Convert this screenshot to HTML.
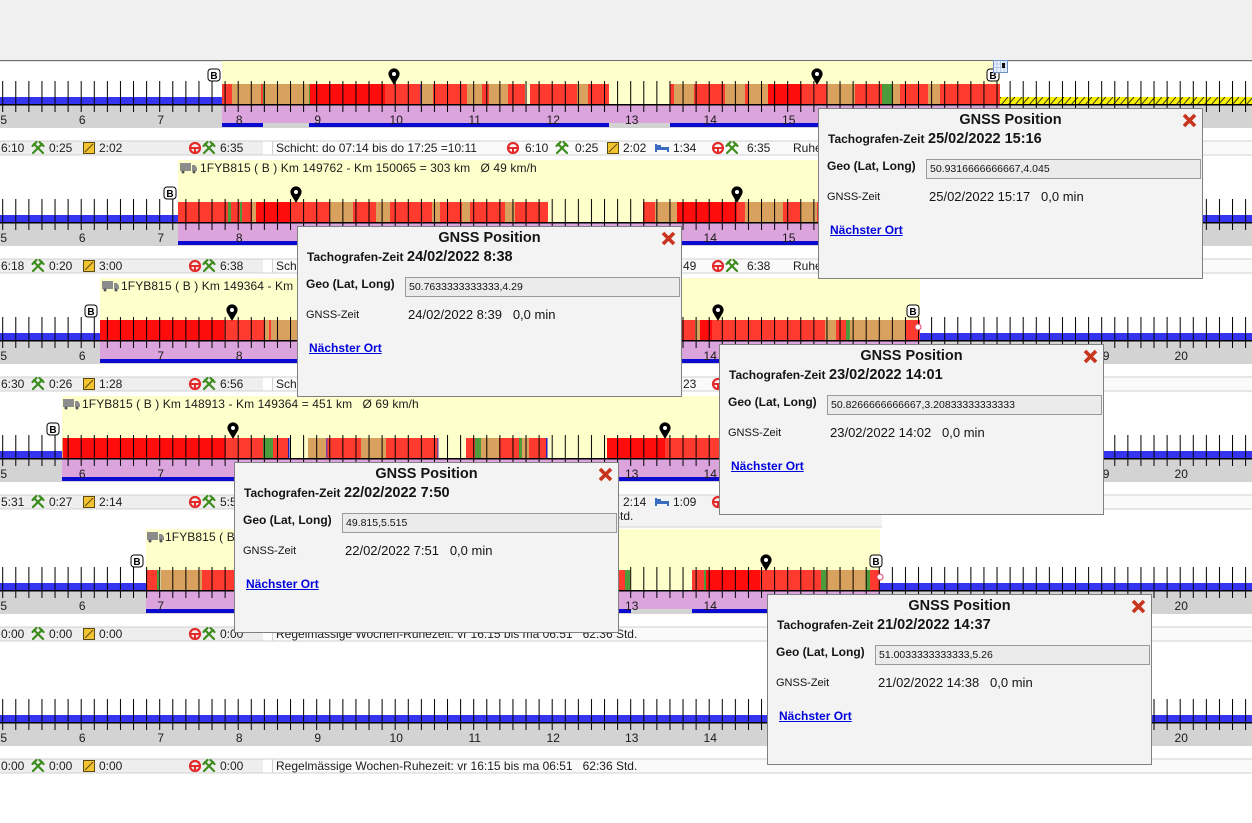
<!DOCTYPE html>
<html><head><meta charset="utf-8">
<style>
html,body{margin:0;padding:0;background:#fff;}
body{width:1252px;height:823px;position:relative;overflow:hidden;}
svg text{white-space:pre;}
.pp{position:absolute;width:383px;height:169px;background:#f3f3f3;border:1px solid #808080;font-family:"Liberation Sans",Arial,sans-serif;color:#141414;}
.pp div{position:absolute;white-space:pre;line-height:14px;}
.pp .tt{left:0;width:383px;text-align:center;top:3px;font-weight:bold;font-size:14.5px;line-height:16px;}
.pp .l1{left:9px;top:23px;font-weight:bold;font-size:12px;}
.pp .v1{left:109px;top:22px;font-weight:bold;font-size:14.5px;line-height:17px;}
.pp .l2{left:8px;top:50px;font-weight:bold;font-size:12px;}
.pp .in{left:107px;top:50px;width:270px;height:18px;border:1px solid #9a9a9a;background:#ebebeb;font-size:10.5px;line-height:18px;padding-left:3px;}
.pp .l3{left:8px;top:81px;font-size:11px;}
.pp .v3{left:110px;top:80px;font-size:13px;line-height:16px;}
.pp .lk{left:11px;top:114px;font-weight:bold;font-size:12px;color:#0000dd;text-decoration:underline;}
.pp svg{position:absolute;left:363px;top:4px;}
</style></head><body>
<svg width="1252" height="823" style="position:absolute;left:0;top:0" font-family="Liberation Sans, Arial, sans-serif">
<defs>
<pattern id="tk" patternUnits="userSpaceOnUse" x="2.2" y="0" width="13.0833" height="40"><rect width="1" height="40" fill="#000"/></pattern>
<pattern id="hat" patternUnits="userSpaceOnUse" width="7" height="8"><rect width="7" height="8" fill="#f8f000"/><path d="M0,8 L7,0" stroke="#222" stroke-width="0.9"/></pattern>
<g id="ham" stroke="#3d8c1e" stroke-width="2.2" stroke-linecap="round" fill="none"><line x1="-5" y1="5" x2="4" y2="-4"/><line x1="5" y1="5" x2="-4" y2="-4"/><line x1="-5.5" y1="-2" x2="-1.5" y2="-6"/><line x1="5.5" y1="-2" x2="1.5" y2="-6"/></g>
<g id="bx"><rect x="-5.5" y="-5.5" width="11" height="11" fill="#f4c430" stroke="#5a4a10"/><line x1="-4" y1="4" x2="4" y2="-4" stroke="#5a4a10"/></g>
<g id="wh"><circle r="5" fill="none" stroke="#e32b2b" stroke-width="2.2"/><path d="M-5,0 H5 M0,0 V5" stroke="#e32b2b" stroke-width="2"/></g>
<g id="bd" fill="#3a6cc0"><rect x="-7" y="-1" width="14" height="3"/><rect x="-7" y="-4" width="2" height="8"/><rect x="5" y="-1" width="2" height="5"/><rect x="-5" y="-3" width="4" height="2"/></g>
<g id="tr"><rect x="0" y="0" width="11" height="8" fill="#8c8c8c"/><path d="M12,2 h3 l2,3 v3 h-5z" fill="#8c8c8c"/><circle cx="3" cy="9" r="1.5" fill="#555"/><circle cx="14" cy="9" r="1.5" fill="#555"/></g>
</defs>

<rect x="0" y="0" width="1252" height="60" fill="#f0f0f0"/>
<rect x="0" y="60" width="1252" height="1.2" fill="#707070"/>

<!-- ROW 1 -->
<g transform="translate(0,105)">
<rect x="0" y="0" width="1252" height="23" fill="#d3d3d3"/>
<rect x="222" y="-44" width="778" height="44" fill="#ffffcc"/>
<rect x="222" y="0" width="778" height="18" fill="#dba4dd"/>
<g fill="#0a0ad0"><rect x="222" y="18" width="41" height="4"/><rect x="309" y="18" width="300" height="4"/><rect x="670" y="18" width="330" height="4"/></g>
<rect x="0" y="-8" width="222" height="8" fill="#3535f0"/>
<rect x="1000" y="-8" width="252" height="8" fill="url(#hat)"/>
<g fill="#ff3b2f"><rect x="222" y="-21" width="10" height="21"/><rect x="261" y="-21" width="2" height="21"/><rect x="385" y="-21" width="35" height="21"/><rect x="433" y="-21" width="34" height="21"/><rect x="482" y="-21" width="7" height="21"/><rect x="508" y="-21" width="17" height="21"/><rect x="530" y="-21" width="47" height="21"/><rect x="588" y="-21" width="21" height="21"/><rect x="670" y="-21" width="4" height="21"/><rect x="694" y="-21" width="31" height="21"/><rect x="745" y="-21" width="4" height="21"/><rect x="802" y="-21" width="25" height="21"/><rect x="855" y="-21" width="27" height="21"/><rect x="900" y="-21" width="28" height="21"/><rect x="940" y="-21" width="60" height="21"/></g>
<g fill="#ff0d0d"><rect x="310" y="-21" width="75" height="21"/><rect x="768" y="-21" width="34" height="21"/></g>
<g fill="#d9a15e"><rect x="232" y="-21" width="29" height="21"/><rect x="264" y="-21" width="45" height="21"/><rect x="422" y="-21" width="11" height="21"/><rect x="467" y="-21" width="15" height="21"/><rect x="489" y="-21" width="19" height="21"/><rect x="577" y="-21" width="11" height="21"/><rect x="674" y="-21" width="20" height="21"/><rect x="725" y="-21" width="20" height="21"/><rect x="749" y="-21" width="19" height="21"/><rect x="827" y="-21" width="28" height="21"/><rect x="892" y="-21" width="8" height="21"/><rect x="928" y="-21" width="12" height="21"/></g>
<g fill="#4c9c3c"><rect x="263" y="-21" width="1" height="21"/><rect x="309" y="-21" width="1" height="21"/><rect x="882" y="-21" width="10" height="21"/></g>
<rect x="420" y="-21" width="2" height="21" fill="#8040a0"/>
<rect x="0" y="-24" width="1252" height="24" fill="url(#tk)"/>
<rect x="0" y="-1" width="1252" height="1.5" fill="#000"/>
<rect x="0" y="0" width="1252" height="7" fill="url(#tk)"/>
<g font-size="12" fill="#1a1a1a" text-anchor="middle"><text x="3.7" y="19">5</text><text x="82.2" y="19">6</text><text x="160.7" y="19">7</text><text x="239.2" y="19">8</text><text x="317.7" y="19">9</text><text x="396.2" y="19">10</text><text x="474.7" y="19">11</text><text x="553.2" y="19">12</text><text x="631.7" y="19">13</text><text x="710.2" y="19">14</text><text x="788.7" y="19">15</text><text x="867.2" y="19">16</text><text x="945.7" y="19">17</text><text x="1024.2" y="19">18</text><text x="1102.7" y="19">19</text><text x="1181.2" y="19">20</text></g>
<rect x="208" y="-36" width="12" height="12" rx="3" fill="#fff" stroke="#000"/><text x="214" y="-26" font-size="10" font-weight="bold" text-anchor="middle">B</text>
<rect x="987" y="-36" width="12" height="12" rx="3" fill="#fff" stroke="#000"/><text x="993" y="-26" font-size="10" font-weight="bold" text-anchor="middle">B</text>
<g><rect x="993.5" y="-44.5" width="14" height="12" fill="#e8f0ff" stroke="#7090c8"/><path d="M997,-44 V-33 M1000.5,-44 V-33 M1004,-44 V-33 M994,-41 H1007 M994,-37.5 H1007" stroke="#a8c0e8" stroke-width="0.8"/><rect x="1002" y="-42" width="3" height="5" fill="#111"/></g>
<path d="M394,-20 L389,-28.5 A5.6,5.6 0 1 1 399,-28.5 Z" fill="#000"/><circle cx="394" cy="-31" r="2" fill="#fff"/>
<path d="M817,-20 L812,-28.5 A5.6,5.6 0 1 1 822,-28.5 Z" fill="#000"/><circle cx="817" cy="-31" r="2" fill="#fff"/>
<!-- info -->
<rect x="0" y="36" width="1252" height="14" fill="#fafafa"/><rect x="0" y="36" width="263" height="14" fill="#eeeeee"/><rect x="263" y="36" width="9" height="14" fill="#fff"/>
<rect x="0" y="35.5" width="1252" height="1" fill="#d0d0d0"/><rect x="0" y="49.5" width="1252" height="1" fill="#d0d0d0"/><rect x="272" y="36" width="1" height="14" fill="#d0d0d0"/>
<g font-size="12" fill="#1c1c1c">
<text x="1" y="47">6:10</text><use href="#ham" x="38" y="43"/><text x="49" y="47">0:25</text><use href="#bx" x="89" y="43"/><text x="99" y="47">2:02</text><use href="#wh" x="195" y="43"/><use href="#ham" x="209" y="43"/><text x="220" y="47">6:35</text>
<text x="276" y="47">Schicht: do 07:14 bis do 17:25 =10:11</text><use href="#wh" x="513" y="43"/><text x="525" y="47">6:10</text><use href="#ham" x="562" y="43"/><text x="575" y="47">0:25</text><use href="#bx" x="613" y="43"/><text x="623" y="47">2:02</text><use href="#bd" x="662" y="43"/><text x="673" y="47">1:34</text><use href="#wh" x="718" y="43"/><use href="#ham" x="732" y="43"/><text x="747" y="47">6:35</text><text x="793" y="47">Ruhezeit</text>
</g>
</g>

<!-- ROW 2 -->
<g transform="translate(0,223)">
<rect x="0" y="0" width="1252" height="23" fill="#d3d3d3"/>
<rect x="178" y="-63" width="799" height="63" fill="#ffffcc"/>
<rect x="178" y="0" width="799" height="18" fill="#dba4dd"/>
<g fill="#0a0ad0"><rect x="178" y="18" width="370" height="4"/><rect x="643" y="18" width="334" height="4"/></g>
<g fill="#3535f0"><rect x="0" y="-8" width="178" height="8"/><rect x="977" y="-8" width="275" height="8"/></g>
<g fill="#ff3b2f"><rect x="178" y="-21" width="50" height="21"/><rect x="231" y="-21" width="9" height="21"/><rect x="242" y="-21" width="10" height="21"/><rect x="290" y="-21" width="40" height="21"/><rect x="353" y="-21" width="23" height="21"/><rect x="390" y="-21" width="42" height="21"/><rect x="440" y="-21" width="22" height="21"/><rect x="470" y="-21" width="35" height="21"/><rect x="515" y="-21" width="33" height="21"/><rect x="643" y="-21" width="12" height="21"/><rect x="737" y="-21" width="8" height="21"/><rect x="783" y="-21" width="17" height="21"/><rect x="817" y="-21" width="160" height="21"/></g>
<g fill="#ff0d0d"><rect x="256" y="-21" width="34" height="21"/><rect x="677" y="-21" width="60" height="21"/></g>
<g fill="#d9a15e"><rect x="252" y="-21" width="4" height="21"/><rect x="330" y="-21" width="23" height="21"/><rect x="376" y="-21" width="14" height="21"/><rect x="432" y="-21" width="8" height="21"/><rect x="462" y="-21" width="8" height="21"/><rect x="505" y="-21" width="10" height="21"/><rect x="655" y="-21" width="22" height="21"/><rect x="745" y="-21" width="38" height="21"/><rect x="800" y="-21" width="17" height="21"/></g>
<g fill="#4c9c3c"><rect x="228" y="-21" width="3" height="21"/><rect x="240" y="-21" width="2" height="21"/></g>
<rect x="0" y="-24" width="1252" height="24" fill="url(#tk)"/>
<rect x="0" y="-1" width="1252" height="1.5" fill="#000"/>
<rect x="0" y="0" width="1252" height="7" fill="url(#tk)"/>
<g font-size="12" fill="#1a1a1a" text-anchor="middle"><text x="3.7" y="19">5</text><text x="82.2" y="19">6</text><text x="160.7" y="19">7</text><text x="239.2" y="19">8</text><text x="317.7" y="19">9</text><text x="396.2" y="19">10</text><text x="474.7" y="19">11</text><text x="553.2" y="19">12</text><text x="631.7" y="19">13</text><text x="710.2" y="19">14</text><text x="788.7" y="19">15</text><text x="867.2" y="19">16</text><text x="945.7" y="19">17</text><text x="1024.2" y="19">18</text><text x="1102.7" y="19">19</text><text x="1181.2" y="19">20</text></g>
<use href="#tr" x="180" y="-60"/>
<text x="200" y="-51" font-size="12" fill="#1c1c1c" letter-spacing="0.1" xml:space="preserve">1FYB815 ( B ) Km 149762 - Km 150065 = 303 km   Ø 49 km/h</text>
<rect x="164" y="-36" width="12" height="12" rx="3" fill="#fff" stroke="#000"/><text x="170" y="-26" font-size="10" font-weight="bold" text-anchor="middle">B</text>
<path d="M296,-20 L291,-28.5 A5.6,5.6 0 1 1 301,-28.5 Z" fill="#000"/><circle cx="296" cy="-31" r="2" fill="#fff"/>
<path d="M737,-20 L732,-28.5 A5.6,5.6 0 1 1 742,-28.5 Z" fill="#000"/><circle cx="737" cy="-31" r="2" fill="#fff"/>
<rect x="0" y="36" width="1252" height="14" fill="#fafafa"/><rect x="0" y="36" width="263" height="14" fill="#eeeeee"/><rect x="263" y="36" width="9" height="14" fill="#fff"/>
<rect x="0" y="35.5" width="1252" height="1" fill="#d0d0d0"/><rect x="0" y="49.5" width="1252" height="1" fill="#d0d0d0"/><rect x="272" y="36" width="1" height="14" fill="#d0d0d0"/>
<g font-size="12" fill="#1c1c1c">
<text x="1" y="47">6:18</text><use href="#ham" x="38" y="43"/><text x="49" y="47">0:20</text><use href="#bx" x="89" y="43"/><text x="99" y="47">3:00</text><use href="#wh" x="195" y="43"/><use href="#ham" x="209" y="43"/><text x="220" y="47">6:38</text>
<text x="276" y="47">Schicht: mi 06:15 bis mi 16:41 =10:26</text><use href="#wh" x="513" y="43"/><text x="525" y="47">6:18</text><use href="#ham" x="562" y="43"/><text x="575" y="47">0:20</text><use href="#bx" x="613" y="43"/><text x="623" y="47">3:00</text><use href="#bd" x="662" y="43"/><text x="673" y="47">1:49</text><use href="#wh" x="718" y="43"/><use href="#ham" x="732" y="43"/><text x="747" y="47">6:38</text><text x="793" y="47">Ruhezeit</text>
</g>
</g>

<!-- ROW 3 -->
<g transform="translate(0,341)">
<rect x="0" y="0" width="1252" height="23" fill="#d3d3d3"/>
<rect x="100" y="-63" width="820" height="63" fill="#ffffcc"/>
<rect x="100" y="0" width="820" height="18" fill="#dba4dd"/>
<rect x="100" y="18" width="820" height="4" fill="#0a0ad0"/>
<g fill="#3535f0"><rect x="0" y="-8" width="100" height="8"/><rect x="920" y="-8" width="332" height="8"/></g>
<g fill="#ff0d0d"><rect x="100" y="-21" width="124" height="21"/><rect x="700" y="-21" width="12" height="21"/></g>
<g fill="#ff3b2f"><rect x="224" y="-21" width="41" height="21"/><rect x="269" y="-21" width="2" height="21"/><rect x="297" y="-21" width="385" height="21"/><rect x="682" y="-21" width="13" height="21"/><rect x="712" y="-21" width="113" height="21"/><rect x="836" y="-21" width="10" height="21"/><rect x="906" y="-21" width="14" height="21"/></g>
<g fill="#d9a15e"><rect x="265" y="-21" width="4" height="21"/><rect x="271" y="-21" width="26" height="21"/><rect x="695" y="-21" width="5" height="21"/><rect x="825" y="-21" width="11" height="21"/><rect x="850" y="-21" width="56" height="21"/></g>
<rect x="846" y="-21" width="4" height="21" fill="#4c9c3c"/>
<rect x="0" y="-24" width="1252" height="24" fill="url(#tk)"/>
<rect x="0" y="-1" width="1252" height="1.5" fill="#000"/>
<rect x="0" y="0" width="1252" height="7" fill="url(#tk)"/>
<g font-size="12" fill="#1a1a1a" text-anchor="middle"><text x="3.7" y="19">5</text><text x="82.2" y="19">6</text><text x="160.7" y="19">7</text><text x="239.2" y="19">8</text><text x="317.7" y="19">9</text><text x="396.2" y="19">10</text><text x="474.7" y="19">11</text><text x="553.2" y="19">12</text><text x="631.7" y="19">13</text><text x="710.2" y="19">14</text><text x="788.7" y="19">15</text><text x="867.2" y="19">16</text><text x="945.7" y="19">17</text><text x="1024.2" y="19">18</text><text x="1102.7" y="19">19</text><text x="1181.2" y="19">20</text></g>
<use href="#tr" x="102" y="-60"/>
<text x="121" y="-51" font-size="12" fill="#1c1c1c" letter-spacing="0.1" xml:space="preserve">1FYB815 ( B ) Km 149364 - Km 149762 = 398 km   Ø 52 km/h</text>
<rect x="85" y="-36" width="12" height="12" rx="3" fill="#fff" stroke="#000"/><text x="91" y="-26" font-size="10" font-weight="bold" text-anchor="middle">B</text>
<rect x="907" y="-36" width="12" height="12" rx="3" fill="#fff" stroke="#000"/><text x="913" y="-26" font-size="10" font-weight="bold" text-anchor="middle">B</text>
<circle cx="918" cy="-14" r="3" fill="#fff" stroke="#e04060"/>
<path d="M232,-20 L227,-28.5 A5.6,5.6 0 1 1 237,-28.5 Z" fill="#000"/><circle cx="232" cy="-31" r="2" fill="#fff"/>
<path d="M718,-20 L713,-28.5 A5.6,5.6 0 1 1 723,-28.5 Z" fill="#000"/><circle cx="718" cy="-31" r="2" fill="#fff"/>
<rect x="0" y="36" width="1252" height="14" fill="#fafafa"/><rect x="0" y="36" width="263" height="14" fill="#eeeeee"/><rect x="263" y="36" width="9" height="14" fill="#fff"/>
<rect x="0" y="35.5" width="1252" height="1" fill="#d0d0d0"/><rect x="0" y="49.5" width="1252" height="1" fill="#d0d0d0"/><rect x="272" y="36" width="1" height="14" fill="#d0d0d0"/>
<g font-size="12" fill="#1c1c1c">
<text x="1" y="47">6:30</text><use href="#ham" x="38" y="43"/><text x="49" y="47">0:26</text><use href="#bx" x="89" y="43"/><text x="99" y="47">1:28</text><use href="#wh" x="195" y="43"/><use href="#ham" x="209" y="43"/><text x="220" y="47">6:56</text>
<text x="276" y="47">Schicht: di 05:45 bis di 17:05 =11:20</text><use href="#wh" x="513" y="43"/><text x="525" y="47">6:30</text><use href="#ham" x="562" y="43"/><text x="575" y="47">0:26</text><use href="#bx" x="613" y="43"/><text x="623" y="47">1:28</text><use href="#bd" x="662" y="43"/><text x="673" y="47">1:23</text><use href="#wh" x="718" y="43"/><use href="#ham" x="732" y="43"/><text x="747" y="47">6:56</text>
</g>
</g>

<!-- ROW 4 -->
<g transform="translate(0,459)">
<rect x="0" y="0" width="1252" height="23" fill="#d3d3d3"/>
<rect x="62" y="-63" width="838" height="63" fill="#ffffcc"/>
<rect x="62" y="0" width="838" height="18" fill="#dba4dd"/>
<g fill="#0a0ad0"><rect x="62" y="18" width="227" height="4"/><rect x="308" y="18" width="130" height="4"/><rect x="466" y="18" width="80" height="4"/><rect x="607" y="18" width="293" height="4"/></g>
<g fill="#3535f0"><rect x="0" y="-8" width="62" height="8"/><rect x="900" y="-8" width="352" height="8"/></g>
<g fill="#d9a15e"><rect x="62" y="-21" width="1" height="21"/><rect x="308" y="-21" width="18" height="21"/><rect x="361" y="-21" width="25" height="21"/><rect x="481" y="-21" width="18" height="21"/><rect x="522" y="-21" width="7" height="21"/></g>
<g fill="#ff0d0d"><rect x="63" y="-21" width="162" height="21"/><rect x="607" y="-21" width="58" height="21"/></g>
<g fill="#ff3b2f"><rect x="225" y="-21" width="38" height="21"/><rect x="273" y="-21" width="15" height="21"/><rect x="327" y="-21" width="34" height="21"/><rect x="386" y="-21" width="51" height="21"/><rect x="466" y="-21" width="9" height="21"/><rect x="499" y="-21" width="20" height="21"/><rect x="529" y="-21" width="17" height="21"/><rect x="665" y="-21" width="235" height="21"/></g>
<g fill="#4c9c3c"><rect x="263" y="-21" width="10" height="21"/><rect x="475" y="-21" width="6" height="21"/><rect x="519" y="-21" width="3" height="21"/></g>
<g fill="#2020c0"><rect x="288" y="-21" width="1.5" height="21"/><rect x="546" y="-21" width="1.5" height="21"/></g>
<g fill="#8040a0"><rect x="326" y="-21" width="1.5" height="21"/><rect x="437" y="-21" width="1.5" height="21"/></g>
<rect x="0" y="-24" width="1252" height="24" fill="url(#tk)"/>
<rect x="0" y="-1" width="1252" height="1.5" fill="#000"/>
<rect x="0" y="0" width="1252" height="7" fill="url(#tk)"/>
<g font-size="12" fill="#1a1a1a" text-anchor="middle"><text x="3.7" y="19">5</text><text x="82.2" y="19">6</text><text x="160.7" y="19">7</text><text x="239.2" y="19">8</text><text x="317.7" y="19">9</text><text x="396.2" y="19">10</text><text x="474.7" y="19">11</text><text x="553.2" y="19">12</text><text x="631.7" y="19">13</text><text x="710.2" y="19">14</text><text x="788.7" y="19">15</text><text x="867.2" y="19">16</text><text x="945.7" y="19">17</text><text x="1024.2" y="19">18</text><text x="1102.7" y="19">19</text><text x="1181.2" y="19">20</text></g>
<use href="#tr" x="63" y="-60"/>
<text x="82" y="-51" font-size="12" fill="#1c1c1c" letter-spacing="0.1" xml:space="preserve">1FYB815 ( B ) Km 148913 - Km 149364 = 451 km   Ø 69 km/h</text>
<rect x="47" y="-36" width="12" height="12" rx="3" fill="#fff" stroke="#000"/><text x="53" y="-26" font-size="10" font-weight="bold" text-anchor="middle">B</text>
<path d="M233,-20 L228,-28.5 A5.6,5.6 0 1 1 238,-28.5 Z" fill="#000"/><circle cx="233" cy="-31" r="2" fill="#fff"/>
<path d="M665,-20 L660,-28.5 A5.6,5.6 0 1 1 670,-28.5 Z" fill="#000"/><circle cx="665" cy="-31" r="2" fill="#fff"/>
<rect x="0" y="36" width="1252" height="14" fill="#fafafa"/><rect x="272" y="36" width="610" height="32" fill="#f3f3f3"/><rect x="0" y="36" width="263" height="14" fill="#eeeeee"/><rect x="263" y="36" width="9" height="14" fill="#fff"/>
<rect x="0" y="35.5" width="1252" height="1" fill="#d0d0d0"/><rect x="0" y="49.5" width="272" height="1" fill="#d0d0d0"/><rect x="882" y="49.5" width="370" height="1" fill="#d0d0d0"/><rect x="272" y="67.5" width="610" height="1" fill="#d0d0d0"/><rect x="272" y="36" width="1" height="32" fill="#d0d0d0"/>
<g font-size="12" fill="#1c1c1c">
<text x="1" y="47">5:31</text><use href="#ham" x="38" y="43"/><text x="49" y="47">0:27</text><use href="#bx" x="89" y="43"/><text x="99" y="47">2:14</text><use href="#wh" x="195" y="43"/><use href="#ham" x="209" y="43"/><text x="220" y="47">5:58</text>
<text x="276" y="47">Schicht: mo 06:49 bis mo 16:15 =9:26</text><use href="#wh" x="513" y="43"/><text x="525" y="47">5:31</text><use href="#ham" x="562" y="43"/><text x="575" y="47">0:27</text><use href="#bx" x="613" y="43"/><text x="623" y="47">2:14</text><use href="#bd" x="662" y="43"/><text x="673" y="47">1:09</text><use href="#wh" x="718" y="43"/><use href="#ham" x="732" y="43"/><text x="747" y="47">5:58</text>
<text x="612" y="61">Std.</text>
</g>
</g>

<!-- ROW 5 -->
<g transform="translate(0,591)">
<rect x="0" y="0" width="1252" height="23" fill="#d3d3d3"/>
<rect x="146" y="-62" width="734" height="62" fill="#ffffcc"/>
<rect x="146" y="0" width="734" height="18" fill="#dba4dd"/>
<g fill="#0a0ad0"><rect x="146" y="18" width="485" height="4"/><rect x="692" y="18" width="188" height="4"/></g>
<g fill="#3535f0"><rect x="0" y="-8" width="146" height="8"/><rect x="880" y="-8" width="372" height="8"/></g>
<g fill="#ff3b2f"><rect x="146" y="-21" width="11" height="21"/><rect x="202" y="-21" width="32" height="21"/><rect x="234" y="-21" width="385" height="21"/><rect x="619" y="-21" width="6" height="21"/><rect x="692" y="-21" width="12" height="21"/><rect x="760" y="-21" width="61" height="21"/><rect x="870" y="-21" width="10" height="21"/></g>
<g fill="#4c9c3c"><rect x="157" y="-21" width="2" height="21"/><rect x="625" y="-21" width="5" height="21"/><rect x="704" y="-21" width="2" height="21"/><rect x="821" y="-21" width="5" height="21"/><rect x="866" y="-21" width="4" height="21"/></g>
<g fill="#d9a15e"><rect x="161" y="-21" width="41" height="21"/><rect x="826" y="-21" width="40" height="21"/></g>
<rect x="706" y="-21" width="54" height="21" fill="#ff0d0d"/>
<rect x="0" y="-24" width="1252" height="24" fill="url(#tk)"/>
<rect x="0" y="-1" width="1252" height="1.5" fill="#000"/>
<rect x="0" y="0" width="1252" height="7" fill="url(#tk)"/>
<g font-size="12" fill="#1a1a1a" text-anchor="middle"><text x="3.7" y="19">5</text><text x="82.2" y="19">6</text><text x="160.7" y="19">7</text><text x="239.2" y="19">8</text><text x="317.7" y="19">9</text><text x="396.2" y="19">10</text><text x="474.7" y="19">11</text><text x="553.2" y="19">12</text><text x="631.7" y="19">13</text><text x="710.2" y="19">14</text><text x="788.7" y="19">15</text><text x="867.2" y="19">16</text><text x="945.7" y="19">17</text><text x="1024.2" y="19">18</text><text x="1102.7" y="19">19</text><text x="1181.2" y="19">20</text></g>
<use href="#tr" x="147" y="-59"/>
<text x="165" y="-50" font-size="12" fill="#1c1c1c" letter-spacing="0.1" xml:space="preserve">1FYB815 ( B ) Km 148500 - Km 148913 = 413 km   Ø 60 km/h</text>
<rect x="131" y="-36" width="12" height="12" rx="3" fill="#fff" stroke="#000"/><text x="137" y="-26" font-size="10" font-weight="bold" text-anchor="middle">B</text>
<rect x="870" y="-36" width="12" height="12" rx="3" fill="#fff" stroke="#000"/><text x="876" y="-26" font-size="10" font-weight="bold" text-anchor="middle">B</text>
<circle cx="880" cy="-14" r="3" fill="#fff" stroke="#e04060"/>
<path d="M766,-20 L761,-28.5 A5.6,5.6 0 1 1 771,-28.5 Z" fill="#000"/><circle cx="766" cy="-31" r="2" fill="#fff"/>
<rect x="0" y="36" width="1252" height="14" fill="#fafafa"/><rect x="0" y="36" width="263" height="14" fill="#eeeeee"/><rect x="263" y="36" width="9" height="14" fill="#fff"/>
<rect x="0" y="35.5" width="1252" height="1" fill="#d0d0d0"/><rect x="0" y="49.5" width="1252" height="1" fill="#d0d0d0"/><rect x="272" y="36" width="1" height="14" fill="#d0d0d0"/>
<g font-size="12" fill="#1c1c1c">
<text x="1" y="47">0:00</text><use href="#ham" x="38" y="43"/><text x="49" y="47">0:00</text><use href="#bx" x="89" y="43"/><text x="99" y="47">0:00</text><use href="#wh" x="195" y="43"/><use href="#ham" x="209" y="43"/><text x="220" y="47">0:00</text>
<text x="276" y="47" xml:space="preserve">Regelmässige Wochen-Ruhezeit: vr 16:15 bis ma 06:51   62:36 Std.</text>
</g>
</g>

<!-- ROW 6 -->
<g transform="translate(0,723)">
<rect x="0" y="0" width="1252" height="23" fill="#d3d3d3"/>
<rect x="0" y="-8" width="1252" height="8" fill="#3535f0"/>
<rect x="0" y="-24" width="1252" height="24" fill="url(#tk)"/>
<rect x="0" y="-1" width="1252" height="1.5" fill="#000"/>
<rect x="0" y="0" width="1252" height="7" fill="url(#tk)"/>
<g font-size="12" fill="#1a1a1a" text-anchor="middle"><text x="3.7" y="19">5</text><text x="82.2" y="19">6</text><text x="160.7" y="19">7</text><text x="239.2" y="19">8</text><text x="317.7" y="19">9</text><text x="396.2" y="19">10</text><text x="474.7" y="19">11</text><text x="553.2" y="19">12</text><text x="631.7" y="19">13</text><text x="710.2" y="19">14</text><text x="788.7" y="19">15</text><text x="867.2" y="19">16</text><text x="945.7" y="19">17</text><text x="1024.2" y="19">18</text><text x="1102.7" y="19">19</text><text x="1181.2" y="19">20</text></g>
<rect x="0" y="36" width="1252" height="14" fill="#fafafa"/><rect x="0" y="36" width="263" height="14" fill="#eeeeee"/><rect x="263" y="36" width="9" height="14" fill="#fff"/>
<rect x="0" y="35.5" width="1252" height="1" fill="#d0d0d0"/><rect x="0" y="49.5" width="1252" height="1" fill="#d0d0d0"/><rect x="272" y="36" width="1" height="14" fill="#d0d0d0"/>
<g font-size="12" fill="#1c1c1c">
<text x="1" y="47">0:00</text><use href="#ham" x="38" y="43"/><text x="49" y="47">0:00</text><use href="#bx" x="89" y="43"/><text x="99" y="47">0:00</text><use href="#wh" x="195" y="43"/><use href="#ham" x="209" y="43"/><text x="220" y="47">0:00</text>
<text x="276" y="47" xml:space="preserve">Regelmässige Wochen-Ruhezeit: vr 16:15 bis ma 06:51   62:36 Std.</text>
</g>
</g>
</svg>

<div class="pp" style="left:818px;top:108px">
<div class="tt">GNSS Position</div>
<svg width="15" height="15"><path d="M2,2 L13,13 M13,2 L2,13" stroke="#c8351e" stroke-width="3.6"/></svg>
<div class="l1">Tachografen-Zeit</div><div class="v1">25/02/2022 15:16</div>
<div class="l2">Geo (Lat, Long)</div><div class="in">50.9316666666667,4.045</div>
<div class="l3">GNSS-Zeit</div><div class="v3">25/02/2022 15:17   0,0 min</div>
<div class="lk">Nächster Ort</div>
</div>

<div class="pp" style="left:297px;top:226px">
<div class="tt">GNSS Position</div>
<svg width="15" height="15"><path d="M2,2 L13,13 M13,2 L2,13" stroke="#c8351e" stroke-width="3.6"/></svg>
<div class="l1">Tachografen-Zeit</div><div class="v1">24/02/2022 8:38</div>
<div class="l2">Geo (Lat, Long)</div><div class="in">50.7633333333333,4.29</div>
<div class="l3">GNSS-Zeit</div><div class="v3">24/02/2022 8:39   0,0 min</div>
<div class="lk">Nächster Ort</div>
</div>

<div class="pp" style="left:719px;top:344px">
<div class="tt">GNSS Position</div>
<svg width="15" height="15"><path d="M2,2 L13,13 M13,2 L2,13" stroke="#c8351e" stroke-width="3.6"/></svg>
<div class="l1">Tachografen-Zeit</div><div class="v1">23/02/2022 14:01</div>
<div class="l2">Geo (Lat, Long)</div><div class="in">50.8266666666667,3.20833333333333</div>
<div class="l3">GNSS-Zeit</div><div class="v3">23/02/2022 14:02   0,0 min</div>
<div class="lk">Nächster Ort</div>
</div>

<div class="pp" style="left:234px;top:462px">
<div class="tt">GNSS Position</div>
<svg width="15" height="15"><path d="M2,2 L13,13 M13,2 L2,13" stroke="#c8351e" stroke-width="3.6"/></svg>
<div class="l1">Tachografen-Zeit</div><div class="v1">22/02/2022 7:50</div>
<div class="l2">Geo (Lat, Long)</div><div class="in">49.815,5.515</div>
<div class="l3">GNSS-Zeit</div><div class="v3">22/02/2022 7:51   0,0 min</div>
<div class="lk">Nächster Ort</div>
</div>

<div class="pp" style="left:767px;top:594px">
<div class="tt">GNSS Position</div>
<svg width="15" height="15"><path d="M2,2 L13,13 M13,2 L2,13" stroke="#c8351e" stroke-width="3.6"/></svg>
<div class="l1">Tachografen-Zeit</div><div class="v1">21/02/2022 14:37</div>
<div class="l2">Geo (Lat, Long)</div><div class="in">51.0033333333333,5.26</div>
<div class="l3">GNSS-Zeit</div><div class="v3">21/02/2022 14:38   0,0 min</div>
<div class="lk">Nächster Ort</div>
</div>
</body></html>
